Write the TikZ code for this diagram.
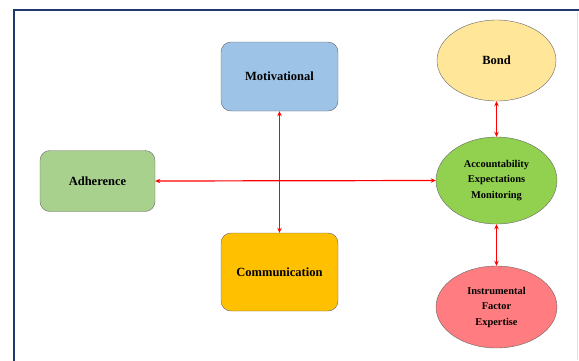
\documentclass[tikz,border=0pt]{standalone}
\usepackage{fontspec}
\setmainfont{Liberation Serif}
\usetikzlibrary{positioning}
\usetikzlibrary{shapes.geometric}
\usetikzlibrary{arrows.meta}
\definecolor{framecol}{RGB}{31,56,110}
\definecolor{motivcol}{RGB}{157,195,230}
\definecolor{adhercol}{RGB}{169,209,142}
\definecolor{commcol}{RGB}{255,192,0}
\definecolor{bondcol}{RGB}{255,230,153}
\definecolor{acccol}{RGB}{146,208,80}
\definecolor{instcol}{RGB}{255,124,128}

\begin{document}
\begin{tikzpicture}[x=1pt,y=-1pt,
						boxnode/.style={rectangle, rounded corners=10pt, draw=black!60, fill=#1, minimum width=117pt, inner sep=2pt, font=\bfseries\fontsize{12.5}{15}\selectfont},
						ovalnode/.style={ellipse, draw=black!60, fill=#1, minimum width=121pt, inner sep=0pt, align=center, font=\bfseries\fontsize{10.4}{15.5}\selectfont},
						link/.style={red, line width=1.2pt, {Stealth[length=5pt,width=4.5pt]}-{Stealth[length=5pt,width=4.5pt]}},
						]
						\useasboundingbox (0,0) rectangle (579,360);
						%Frame
						\draw[framecol, line width=1.8pt] (14.3,370) -- (14.3,10.3) -- (590,10.3);
						\draw[black!12, line width=0.8pt] (577.6,12) -- (577.6,360);
						%Nodes
						\node[boxnode=motivcol, minimum height=69pt]      (motiv) 	at 	(279.5,76.5)     {Motivational};
						\node[boxnode=adhercol, minimum width=115pt, minimum height=61pt]      (adher) 	at 	(97.5,181)       {Adherence};
						\node[boxnode=commcol, minimum height=78pt]       (comm) 	at 	(279.5,272)      {Communication};
						\node[ovalnode=bondcol, minimum width=119pt, minimum height=81pt, font=\bfseries\fontsize{12.5}{15}\selectfont]     (bond) 	at 	(496.5,60.5)     {Bond};
						\node[ovalnode=acccol, minimum height=87pt]       (acc) 	at 	(496.5,180.5)    {Accountability\\Expectations\\Monitoring};
						\node[ovalnode=instcol, minimum height=82pt]      (inst) 	at 	(496.5,307)      {Instrumental\\Factor\\Expertise};

						%Lines
						\draw[link] (adher.east) -- (acc.west);
						\draw[link] (motiv.south) -- (comm.north);
						\draw[link] (bond.south) -- (acc.north);
						\draw[link] (acc.south) -- (inst.north);
					\end{tikzpicture}
\end{document}
